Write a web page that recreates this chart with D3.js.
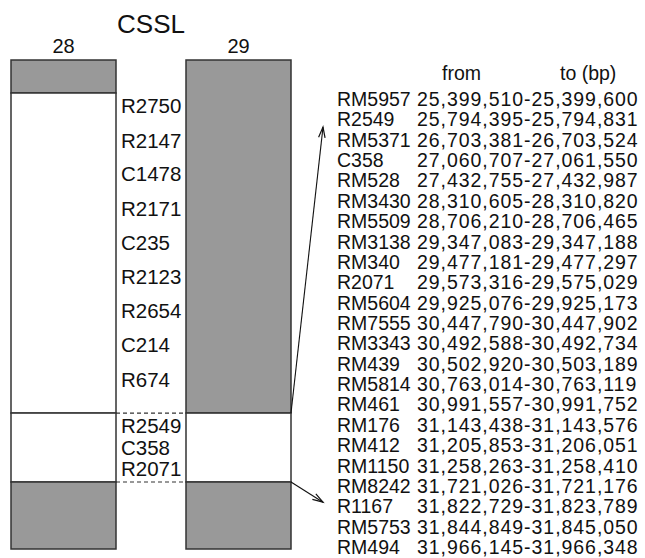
<!DOCTYPE html>
<html>
<head>
<meta charset="utf-8">
<script src="https://cdn.jsdelivr.net/npm/d3@7"></script>
<style>
  html, body { margin: 0; padding: 0; background: #fff; }
  svg { display: block; }
  text { font-family: "Liberation Sans", Arial, Helvetica, sans-serif; fill: #111; }
</style>
</head>
<body>
<svg id="chart" width="645" height="558"></svg>
<script>
// Chromosome segments of the two CSSL lines, in relative map units (0 = top, 100 = bottom).
// type: "donor" = substituted segment (gray), "recipient" = background (white)
const cssLines = ["28", "29"];
const segStart28 = [0, 6.75, 72.2, 86.3];
const segEnd28   = [6.75, 72.2, 86.3, 100];
const segType28  = ["donor", "recipient", "recipient", "donor"];
const segStart29 = [0, 72.2, 86.3];
const segEnd29   = [72.2, 86.3, 100];
const segType29  = ["donor", "recipient", "donor"];

// Boundaries of the fine-mapped interval (map units), drawn as dashed links
const intervalBounds = [72.2, 86.3];

// Markers placed along the chromosome (map units)
const mapMarkers = ["R2750", "R2147", "C1478", "R2171", "C235", "R2123", "R2654", "C214", "R674",
                    "R2549", "C358", "R2071"];
const mapMarkerPos = [9.4, 16.4, 23.3, 30.3, 37.3, 44.3, 51.3, 58.3, 65.3,
                      74.8, 79.3, 83.6];

// Physical positions of markers in the interval
const tableMarkers = ["RM5957", "R2549", "RM5371", "C358", "RM528", "RM3430", "RM5509", "RM3138",
  "RM340", "R2071", "RM5604", "RM7555", "RM3343", "RM439", "RM5814", "RM461", "RM176", "RM412",
  "RM1150", "RM8242", "R1167", "RM5753", "RM494"];
const fromBp = [25399510, 25794395, 26703381, 27060707, 27432755, 28310605, 28706210, 29347083,
  29477181, 29573316, 29925076, 30447790, 30492588, 30502920, 30763014, 30991557, 31143438,
  31205853, 31258263, 31721026, 31822729, 31844849, 31966145];
const toBp = [25399600, 25794831, 26703524, 27061550, 27432987, 28310820, 28706465, 29347188,
  29477297, 29575029, 29925173, 30447902, 30492734, 30503189, 30763119, 30991752, 31143576,
  31206051, 31258410, 31721176, 31823789, 31845050, 31966348];

// Zoom arrows: from an interval bound on line 29 to a fractional row of the table
const arrowFrom = [72.2, 86.3];
const arrowToRow = [1.38, 19.8];

const svg = d3.select("#chart");
const fill = { donor: "#999999", recipient: "#ffffff" };
const stroke = "#333";

const x = d3.scaleBand().domain(cssLines).range([11, 291]).paddingInner(0.4).paddingOuter(0);
const y = d3.scaleLinear().domain([0, 100]).range([60, 549]);

// Title and line labels
svg.append("text")
  .attr("x", (x("28") + x("29") + x.bandwidth()) / 2).attr("y", 33)
  .attr("text-anchor", "middle").style("font-size", "26px").text("CSSL");
svg.selectAll("text.line")
  .data(cssLines).join("text").attr("class", "line")
  .attr("x", d => x(d) + x.bandwidth() / 2).attr("y", 53)
  .attr("text-anchor", "middle").style("font-size", "20px").text(d => d);

// Chromosome segments
function segments(line, starts, ends, types) {
  const data = starts.map((s, i) => ({ s, e: ends[i], t: types[i] }));
  svg.append("g").selectAll("rect")
    .data(data).join("rect")
    .attr("x", x(line)).attr("width", x.bandwidth())
    .attr("y", d => y(d.s)).attr("height", d => y(d.e) - y(d.s))
    .attr("fill", d => fill[d.t])
    .attr("stroke", stroke).attr("stroke-width", 1.5);
}
segments("28", segStart28, segEnd28, segType28);
segments("29", segStart29, segEnd29, segType29);

// Dashed links between the two lines at the interval bounds
svg.append("g").selectAll("line")
  .data(intervalBounds).join("line")
  .attr("x1", x("28") + x.bandwidth()).attr("x2", x("29"))
  .attr("y1", d => y(d)).attr("y2", d => y(d))
  .attr("stroke", stroke).attr("stroke-width", 1.2).attr("stroke-dasharray", "4,3");

// Marker names between the lines
svg.append("g").selectAll("text")
  .data(mapMarkers).join("text")
  .attr("x", x("28") + x.bandwidth() + 5)
  .attr("y", (d, i) => y(mapMarkerPos[i]))
  .attr("dy", "0.36em")
  .style("font-size", "20.5px").text(d => d);

// Table of physical positions
const tableX = 337, rangeX = 417;
const row = d3.scaleLinear().domain([0, tableMarkers.length - 1]).range([106, 554]);
const fmt = d3.format(",");

svg.append("text").attr("x", 442).attr("y", 80).style("font-size", "19.5px").text("from");
svg.append("text").attr("x", 560).attr("y", 80).style("font-size", "19.5px").text("to (bp)");

const rows = svg.append("g").selectAll("g")
  .data(tableMarkers).join("g")
  .attr("transform", (d, i) => `translate(0,${row(i)})`);
rows.append("text").attr("x", tableX).style("font-size", "19.5px").text(d => d);
rows.append("text").attr("x", rangeX).style("font-size", "19.5px")
  .style("letter-spacing", "0.95px")
  .text((d, i) => `${fmt(fromBp[i])}-${fmt(toBp[i])}`);

// Arrows from line 29 to the table
const x0 = x("29") + x.bandwidth();
const x1 = tableX - 14;
arrowFrom.forEach((b, i) => {
  const ax = x0, ay = y(b);
  const bx = x1, by = row(arrowToRow[i]) - 7;
  svg.append("line")
    .attr("x1", ax).attr("y1", ay).attr("x2", bx).attr("y2", by)
    .attr("stroke", "#111").attr("stroke-width", 1.1);
  const ang = Math.atan2(by - ay, bx - ax);
  const len = 11, spread = 0.3;
  const p1 = [bx - len * Math.cos(ang - spread), by - len * Math.sin(ang - spread)];
  const p2 = [bx - len * Math.cos(ang + spread), by - len * Math.sin(ang + spread)];
  svg.append("path")
    .attr("d", `M${p1[0]},${p1[1]}L${bx},${by}L${p2[0]},${p2[1]}`)
    .attr("fill", "none").attr("stroke", "#111").attr("stroke-width", 1.2);
});
</script>
</body>
</html>
